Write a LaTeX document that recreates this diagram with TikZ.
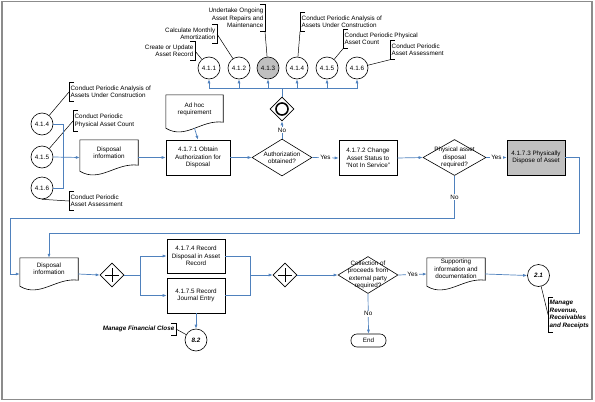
\documentclass[tikz,border=0pt]{standalone}
\usepackage{fontspec}
\setmainfont{Liberation Sans}
\usetikzlibrary{shapes.geometric,arrows.meta}
\definecolor{flowblue}{RGB}{79,129,189}
\definecolor{taskgray}{RGB}{192,192,192}
\definecolor{framegray}{RGB}{140,140,140}
\newcommand\diagsize{\fontsize{6.3}{7.4}\selectfont}

\begin{document}
\begin{tikzpicture}[x=1pt,y=-1pt,font=\diagsize,
		task/.style={draw,line width=0.6pt,rectangle,minimum width=58pt,minimum height=35pt,align=center,inner sep=1pt},
		doc/.style={minimum width=58pt,minimum height=35pt,align=center,inner sep=1pt,text depth=10pt},
		ref/.style={draw,line width=0.6pt,circle,minimum size=22pt,inner sep=0pt},
		decision/.style={draw,line width=0.6pt,diamond,minimum width=60pt,minimum height=37pt,inner sep=0pt},
		dectext/.style={align=center,inner sep=0pt},
		gateway/.style={draw,line width=0.6pt,diamond,minimum width=24pt,minimum height=24pt,inner sep=0pt},
		endterm/.style={draw,line width=0.6pt,rectangle,rounded corners=6pt,minimum width=35pt,minimum height=13pt,inner sep=0pt},
		note/.style={inner xsep=1.5pt,inner ysep=3.5pt},
		linkfont/.style={font=\diagsize\bfseries\itshape},
		flow/.style={draw=flowblue,line width=0.7pt,-{Latex[length=4pt,width=3pt]}},
		flowline/.style={draw=flowblue,line width=0.7pt},
		yesno/.style={fill=white,inner sep=1pt},
		bracket/.style={line width=0.5pt},
		noteline/.style={line width=0.5pt}]
		\useasboundingbox (0,0) rectangle (595,402);
		\draw[framegray,line width=1.6pt] (2,1.5) rectangle (592,399.5);

		\node[ref] (c411) at (209,68) {4.1.1};
		\node[ref] (c412) at (239,68) {4.1.2};
		\node[ref,fill=taskgray] (c413) at (268,68) {4.1.3};
		\node[ref] (c414) at (297,68) {4.1.4};
		\node[ref] (c415) at (327,68) {4.1.5};
		\node[ref] (c416) at (357,68) {4.1.6};
		\node[note,anchor=east,align=right] (aT1) at (195,51) {Create or Update\\Asset Record};
		\node[note,anchor=east,align=right] (aT2) at (217,34) {Calculate Monthly\\Amortization};
		\node[note,anchor=east,align=right] (aT3) at (265,18) {Undertake Ongoing\\Asset Repairs and\\Maintenance};
		\node[note,anchor=west,align=left] (aT4) at (300,22) {Conduct Periodic Analysis of\\Assets Under Construction};
		\node[note,anchor=west,align=left] (aT5) at (343,39) {Conduct Periodic Physical\\Asset Count};
		\node[note,anchor=west,align=left] (aT6) at (390,50) {Conduct Periodic\\Asset Assessment};

		\node[ref] (c414l) at (42,124) {4.1.4};
		\node[ref] (c415l) at (42,157) {4.1.5};
		\node[ref] (c416l) at (42,188) {4.1.6};
		\node[note,anchor=west,align=left] (aL4) at (69,92) {Conduct Periodic Analysis of\\Assets Under Construction};
		\node[note,anchor=west,align=left] (aL5) at (73,121) {Conduct Periodic\\Physical Asset Count};
		\node[note,anchor=west,align=left] (aL6) at (69,201) {Conduct Periodic\\Asset Assessment};

		\node[doc] (dinfo) at (109,157.5) {Disposal\\information};
		\node[doc,minimum width=57pt,minimum height=37pt] (adhoc) at (194.5,113.5) {Ad hoc\\requirement};
		\node[task,minimum width=64pt] (obtain) at (198,157.5) {4.1.7.1 Obtain\\Authorization for\\Disposal};
		\node[decision] (auth) at (282,157.5) {};
		\node[dectext] (authT) at (auth) {Authorization\\obtained?};
		\node[gateway] (endg) at (282,109) {};
		\node[task] (change) at (368,158) {4.1.7.2 Change\\Asset Status to\\“Not In Service”};
		\node[decision,minimum width=63pt,minimum height=36pt] (phys) at (454.5,157.5) {};
		\node[dectext] (physT) at (phys) {Physical asset\\disposal\\required?};
		\node[task,fill=taskgray] (dispose) at (536,157.5) {4.1.7.3 Physically\\Dispose of Asset};

		\node[doc,minimum height=32pt] (dinfob) at (49,274) {Disposal\\information};
		\node[gateway] (par1) at (112,275) {};
		\node[task,minimum height=34pt] (rec4) at (196,256) {4.1.7.4 Record\\Disposal in Asset\\Record};
		\node[task] (rec5) at (196,295.5) {4.1.7.5 Record\\Journal Entry};
		\node[gateway] (par2) at (285,275) {};
		\node[decision] (coll) at (368,275) {};
		\node[dectext] (collT) at (coll) {Collection of\\proceeds from\\external party\\required?};
		\node[doc,minimum height=32pt] (supp) at (456,274) {Supporting\\information and\\documentation};
		\node[ref,linkfont] (c21) at (538.5,275.5) {2.1};
		\node[note,anchor=west,align=left,linkfont] (aRev) at (548,314.5) {Manage\\Revenue,\\Receivables\\and Receipts};
		\node[endterm] (endT) at (368.5,340.5) {End};
		\node[ref,linkfont] (c82) at (196,340) {8.2};
		\node[note,anchor=east,linkfont,inner ysep=3pt] (aFC) at (176,329) {Manage Financial Close};

		\foreach \d in {dinfo,adhoc,dinfob,supp}
			\draw[line width=0.6pt] ([yshift=4pt]\d.south west) -- (\d.north west) -- (\d.north east) -- ([yshift=10pt]\d.south east) .. controls +(-22,-3) and +(20,12) .. ([yshift=4pt]\d.south west) -- cycle;
		\draw[line width=1.6pt] (endg.center) circle (6pt);
		\foreach \g in {par1,par2} {
			\draw[line width=1pt] ([xshift=-7pt]\g.center) -- ([xshift=7pt]\g.center);
			\draw[line width=1pt] ([yshift=-7pt]\g.center) -- ([yshift=7pt]\g.center);
		}

		\foreach \a in {aT4,aT5,aT6,aL4,aL5,aL6,aRev}
			\draw[bracket] ([xshift=5pt]\a.north west) -- (\a.north west) -- (\a.south west) -- ([xshift=5pt]\a.south west);
		\foreach \a in {aT1,aT2,aT3,aFC}
			\draw[bracket] ([xshift=-5pt]\a.north east) -- (\a.north east) -- (\a.south east) -- ([xshift=-5pt]\a.south east);
		\draw[noteline] (aT1.east) -- (c411);
		\draw[noteline] (aT2.east) -- (c412);
		\draw[noteline] (aT3.south east) -- (c413);
		\draw[noteline] (aT4.south west) -- (c414);
		\draw[noteline] (aT5.south west) -- (c415);
		\draw[noteline] (aT6.south west) -- (c416);
		\draw[noteline] (aL4.west) -- (c414l);
		\draw[noteline] (aL5.west) -- (c415l);
		\draw[noteline] (aL6.west) -- (c416l.south);
		\draw[noteline] (aFC.east) -- (c82);
		\draw[noteline] (c21) -- (aRev.west);

		\coordinate (jL) at (63,157);
		\draw[flowline] (c414l.east) -| (jL);
		\draw[flowline] (c416l.east) -| (jL);
		\draw[flow] (c415l.east) -- (dinfo.west);
		\draw[flow] (dinfo.east) -- (obtain.west);
		\draw[flow] ([yshift=4pt]adhoc.south) -- (obtain.north);
		\draw[flow] (obtain.east) -- (auth.west);
		\draw[flow] (auth.north) -- node[yesno]{No} (endg.south);
		\coordinate (busT) at (282,88);
		\draw[flowline] (endg.north) -- (busT);
		\foreach \c in {c411,c412,c413,c414,c415,c416}
			\draw[flow] (busT) -| (\c.south);
		\draw[flow] (auth.east) -- node[yesno]{Yes} (change.west);
		\draw[flow] (change.east) -- (phys.west);
		\draw[flow] (phys.east) -- node[yesno]{Yes} (dispose.west);
		\coordinate (loopNo) at (10,218);
		\draw[flow] (phys.south) |- node[yesno,pos=0.25]{No} (loopNo) |- (dinfob.west);
		\coordinate (loopYes) at (579,233);
		\draw[flow] (dispose.east) -| (loopYes) -| (dinfob.north);

		\draw[flow] (dinfob.east) -- (par1.west);
		\coordinate (split) at (140,275);
		\draw[flowline] (par1.east) -- (split);
		\draw[flow] (split) |- (rec4.west);
		\draw[flow] (split) |- (rec5.west);
		\coordinate (merge) at (250,275);
		\draw[flowline] (rec4.east) -| (merge);
		\draw[flowline] (rec5.east) -| (merge);
		\draw[flow] (merge) -- (par2.west);
		\draw[flow] (par2.east) -- (coll.west);
		\draw[flow] (coll.east) -- node[yesno]{Yes} (supp.west);
		\draw[flow] (supp.east) -- (c21.west);
		\draw[flow] (coll.south) -- node[yesno]{No} (endT.north);
		\draw[flow] (rec5.south) -- (c82.north);
	\end{tikzpicture}
\end{document}
